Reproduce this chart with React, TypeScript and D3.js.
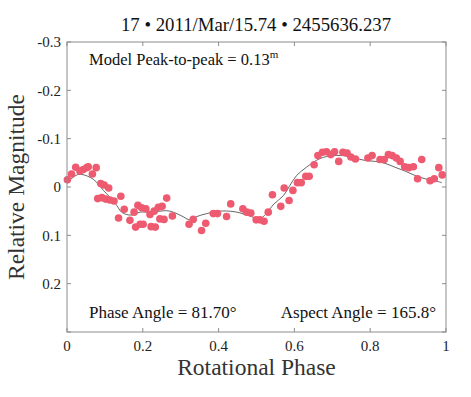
import React from 'react';
import * as d3 from 'd3';

// observed points (phase, relative magnitude)
const obsPhase = [
  0.001, 0.012, 0.023, 0.034, 0.043, 0.052, 0.056, 0.067, 0.077, 0.089,
  0.098, 0.110, 0.081, 0.092, 0.102, 0.113, 0.124, 0.142, 0.151, 0.136,
  0.166, 0.177, 0.187, 0.197, 0.208, 0.219, 0.230, 0.241, 0.251, 0.263,
  0.245, 0.256, 0.278, 0.181, 0.193, 0.201, 0.222, 0.233, 0.322, 0.333,
  0.355, 0.366, 0.386, 0.397, 0.421, 0.432, 0.464, 0.474, 0.485, 0.499,
  0.509, 0.520, 0.531, 0.542, 0.564, 0.573, 0.586, 0.596, 0.608, 0.618,
  0.630, 0.639, 0.652, 0.662, 0.674, 0.685, 0.696, 0.706, 0.717, 0.728,
  0.739, 0.749, 0.761, 0.794, 0.805, 0.826, 0.837, 0.848, 0.858, 0.869,
  0.879, 0.891, 0.902, 0.914, 0.925, 0.936, 0.958, 0.969, 0.981, 0.990,
];
const obsMag = [
  -0.015, -0.027, -0.041, -0.033, -0.036, -0.040, -0.042, -0.027, -0.040, -0.007,
  -0.004, 0.002, 0.024, 0.022, 0.025, 0.027, 0.029, 0.019, 0.046, 0.064,
  0.069, 0.052, 0.038, 0.043, 0.045, 0.057, 0.050, 0.042, 0.040, 0.023,
  0.066, 0.067, 0.060, 0.083, 0.077, 0.077, 0.082, 0.083, 0.077, 0.067,
  0.090, 0.075, 0.055, 0.055, 0.061, 0.035, 0.045, 0.052, 0.054, 0.068,
  0.068, 0.071, 0.052, 0.016, 0.040, 0.002, 0.028, 0.007, -0.009, -0.009,
  -0.022, -0.022, -0.046, -0.065, -0.072, -0.073, -0.067, -0.073, -0.053, -0.072,
  -0.070, -0.062, -0.058, -0.060, -0.065, -0.057, -0.057, -0.067, -0.065, -0.060,
  -0.053, -0.042, -0.040, -0.042, -0.017, -0.057, -0.013, -0.017, -0.040, -0.025,
];

// model light curve
const modelPhase = [
  0.0, 0.03, 0.061, 0.078, 0.096, 0.113, 0.131, 0.144, 0.158, 0.171,
  0.193, 0.219, 0.245, 0.263, 0.28, 0.303, 0.325, 0.343, 0.369, 0.401,
  0.441, 0.467, 0.493, 0.505, 0.515, 0.527, 0.546, 0.571, 0.588, 0.606,
  0.632, 0.668, 0.703, 0.738, 0.76, 0.786, 0.813, 0.839, 0.865, 0.892,
  0.918, 0.945, 0.971, 0.989,
];
const modelMag = [
  -0.009, -0.026, -0.02, -0.01, 0.007, 0.021, 0.038, 0.052, 0.057, 0.058,
  0.052, 0.052, 0.05, 0.049, 0.052, 0.06, 0.068, 0.061, 0.055, 0.05,
  0.051, 0.056, 0.063, 0.066, 0.063, 0.054, 0.035, 0.018, -0.003, -0.024,
  -0.041, -0.059, -0.065, -0.064, -0.06, -0.055, -0.053, -0.049, -0.041, -0.033,
  -0.024, -0.017, -0.013, -0.009,
];

const xTicks = [0, 0.2, 0.4, 0.6, 0.8, 1];
const xTickLabels = ['0', '0.2', '0.4', '0.6', '0.8', '1'];
const yTicks = [-0.3, -0.2, -0.1, 0, 0.1, 0.2, 0.3];
const yTickLabels = ['-0.3', '-0.2', '-0.1', '0', '0.1', '0.2', ''];

const titleText = '17 • 2011/Mar/15.74 • 2455636.237';

export default function App() {
  const width = 471;
  const height = 397;
  const margin = { top: 42, right: 25, bottom: 65, left: 67 };
  const innerWidth = width - margin.left - margin.right;
  const innerHeight = height - margin.top - margin.bottom;

  const x = d3.scaleLinear().domain([0, 1]).range([0, innerWidth]);
  const y = d3.scaleLinear().domain([-0.3, 0.3]).range([0, innerHeight]);

  const model = modelPhase.map((p, i) => [p, modelMag[i]] as [number, number]);
  const line = d3.line<[number, number]>()
    .x(d => x(d[0]))
    .y(d => y(d[1]))
    .curve(d3.curveCatmullRom);

  const font = '"Liberation Serif", serif';
  const axisColor = '#8c8c8c';
  const tickLen = 4;

  return (
    <div style={{ position: 'fixed', left: 0, top: 0 }}>
      <svg width={width} height={height} style={{ display: 'block', background: '#fff' }} fontFamily={font}>
        <text x={256} y={31} textAnchor="middle" fontSize={18.8} fill="#111">
          {titleText}
        </text>
        <g transform={`translate(${margin.left},${margin.top})`}>
          {/* ticks */}
          {xTicks.map((t, i) => (
            <g key={`x${i}`}>
              <line x1={x(t)} x2={x(t)} y1={innerHeight} y2={innerHeight - tickLen} stroke={axisColor} />
              <line x1={x(t)} x2={x(t)} y1={0} y2={tickLen} stroke={axisColor} />
              <text x={x(t)} y={innerHeight + 19} textAnchor="middle" fontSize={15} fill="#222">
                {xTickLabels[i]}
              </text>
            </g>
          ))}
          {yTicks.map((t, i) => (
            <g key={`y${i}`}>
              <line x1={0} x2={tickLen} y1={y(t)} y2={y(t)} stroke={axisColor} />
              <line x1={innerWidth} x2={innerWidth - tickLen} y1={y(t)} y2={y(t)} stroke={axisColor} />
              <text x={-6} y={y(t)} dy="0.35em" textAnchor="end" fontSize={15} fill="#222">
                {yTickLabels[i]}
              </text>
            </g>
          ))}

          {/* model curve */}
          <path d={line(model) ?? ''} fill="none" stroke="#555" strokeWidth={0.9} />

          {/* observations */}
          {obsPhase.map((p, i) => (
            <circle key={i} cx={x(p)} cy={y(obsMag[i])} r={3.8} fill="#ee5a70" />
          ))}

          <rect x={0} y={0} width={innerWidth} height={innerHeight} fill="none" stroke={axisColor} />

          {/* annotations */}
          <text x={22} y={23} fontSize={16.5} fill="#111">
            Model Peak-to-peak = 0.13<tspan dy={-7} fontSize={11}>m</tspan>
          </text>
          <text x={22} y={innerHeight - 14} fontSize={17} fill="#111">
            Phase Angle = 81.70°
          </text>
          <text x={innerWidth - 10} y={innerHeight - 14} textAnchor="end" fontSize={17} fill="#111">
            Aspect Angle = 165.8°
          </text>
        </g>

        <text x={margin.left + innerWidth / 2} y={375} textAnchor="middle" fontSize={23.5} fill="#333">
          Rotational Phase
        </text>
        <text
          transform={`translate(24,${margin.top + innerHeight / 2}) rotate(-90)`}
          textAnchor="middle"
          fontSize={23.5}
          fill="#333"
        >
          Relative Magnitude
        </text>
      </svg>
    </div>
  );
}
